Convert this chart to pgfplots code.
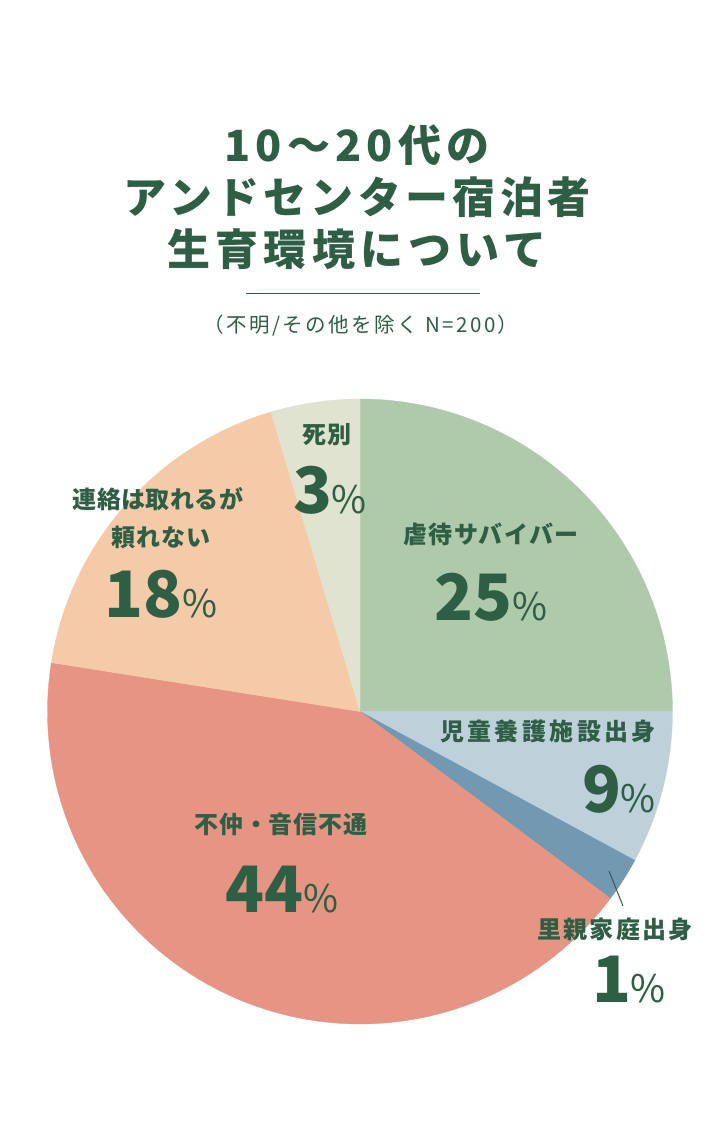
\documentclass[border=0pt]{standalone}
\usepackage{fontspec}
\usepackage{pgfplots}
\usepackage{pgfplotstable}
\pgfplotsset{compat=1.18}
\newfontfamily\jp{Noto Sans CJK JP}
\definecolor{tgreen}{HTML}{2E5E44}
\definecolor{cA}{HTML}{AFC9AB}
\definecolor{cB}{HTML}{BED1DA}
\definecolor{cC}{HTML}{7398B2}
\definecolor{cD}{HTML}{E69585}
\definecolor{cE}{HTML}{F5CAA8}
\definecolor{cF}{HTML}{DFE3D0}
% drawn shares of the pie (percent of the circle, clockwise from 12 o'clock)
\pgfplotstableread{
name value
abuse 25
facility 7.9
foster 2.3
estranged 42.3
unreliable 17.9
bereaved 4.6
}\piedata
\newcommand\pct[1]{{\bfseries\fontsize{64}{64}\selectfont #1}{\mdseries\fontsize{38}{38}\selectfont\%}}
\newcommand\lab[1]{\jp\bfseries\fontsize{24}{24}\selectfont\addfontfeatures{LetterSpace=#1}}
\begin{document}%
\begin{tikzpicture}
\pgfplotstablegetelem{0}{value}\of\piedata \pgfmathsetmacro\vA{\pgfplotsretval}
\pgfplotstablegetelem{1}{value}\of\piedata \pgfmathsetmacro\vB{\pgfplotsretval}
\pgfplotstablegetelem{2}{value}\of\piedata \pgfmathsetmacro\vC{\pgfplotsretval}
\pgfplotstablegetelem{3}{value}\of\piedata \pgfmathsetmacro\vD{\pgfplotsretval}
\pgfplotstablegetelem{4}{value}\of\piedata \pgfmathsetmacro\vE{\pgfplotsretval}
\pgfplotstablegetelem{5}{value}\of\piedata \pgfmathsetmacro\vF{\pgfplotsretval}
\pgfmathsetmacro\aA{90}
\pgfmathsetmacro\aB{\aA-3.6*\vA}
\pgfmathsetmacro\aC{\aB-3.6*\vB}
\pgfmathsetmacro\aD{\aC-3.6*\vC}
\pgfmathsetmacro\aE{\aD-3.6*\vD}
\pgfmathsetmacro\aF{\aE-3.6*\vE}
\pgfmathsetmacro\aG{\aF-3.6*\vF}
\begin{axis}[scale only axis, width=719pt, height=1145pt,
  xmin=0, xmax=719, ymin=0, ymax=1145, y dir=reverse,
  hide axis, clip=false]
\fill[white] (axis cs:0,0) rectangle (axis cs:719,1145);
\addplot[fill=cA, draw=cA, line width=0.3pt, domain=\aB:\aA, samples=90, variable=\t] ({360+312.5*cos(\t)},{711.5-312.5*sin(\t)}) -- (axis cs:360,711.5) -- cycle;
\addplot[fill=cB, draw=cB, line width=0.3pt, domain=\aC:\aB, samples=40, variable=\t] ({360+312.5*cos(\t)},{711.5-312.5*sin(\t)}) -- (axis cs:360,711.5) -- cycle;
\addplot[fill=cC, draw=cC, line width=0.3pt, domain=\aD:\aC, samples=20, variable=\t] ({360+312.5*cos(\t)},{711.5-312.5*sin(\t)}) -- (axis cs:360,711.5) -- cycle;
\addplot[fill=cD, draw=cD, line width=0.3pt, domain=\aE:\aD, samples=150, variable=\t] ({360+312.5*cos(\t)},{711.5-312.5*sin(\t)}) -- (axis cs:360,711.5) -- cycle;
\addplot[fill=cE, draw=cE, line width=0.3pt, domain=\aF:\aE, samples=70, variable=\t] ({360+312.5*cos(\t)},{711.5-312.5*sin(\t)}) -- (axis cs:360,711.5) -- cycle;
\addplot[fill=cF, draw=cF, line width=0.3pt, domain=\aG:\aF, samples=30, variable=\t] ({360+312.5*cos(\t)},{711.5-312.5*sin(\t)}) -- (axis cs:360,711.5) -- cycle;
% title
\node[anchor=base, text=tgreen, font={\jp\bfseries\fontsize{43}{43}\selectfont\addfontfeatures{LetterSpace=12}}] at (axis cs:357,161) {10～20代の};
\node[anchor=base, text=tgreen, font={\jp\bfseries\fontsize{43}{43}\selectfont\addfontfeatures{LetterSpace=10}}] at (axis cs:357,213) {アンドセンター宿泊者};
\node[anchor=base, text=tgreen, font={\jp\bfseries\fontsize{43}{43}\selectfont\addfontfeatures{LetterSpace=12}}] at (axis cs:357,265) {生育環境について};
\draw[tgreen, line width=0.8pt] (axis cs:246,293) -- (axis cs:480,293);
\node[anchor=base, text=tgreen, font={\jp\fontsize{20.5}{20.5}\selectfont\addfontfeatures{LetterSpace=12}}] at (axis cs:361,332) {（不明/その他を除く N=200）};
% labels
\node[anchor=base, text=tgreen, font={\lab{4}}] at (axis cs:327,443.5) {死別};
\node[anchor=base, text=tgreen, font={\jp}] at (axis cs:330,513) {\pct{3}};
\node[anchor=base, text=tgreen, font={\lab{6}}] at (axis cs:491,543) {虐待サバイバー};
\node[anchor=base, text=tgreen, font={\jp}] at (axis cs:491,620) {\pct{25}};
\node[anchor=base, text=tgreen, font={\lab{14}}] at (axis cs:548,740) {児童養護施設出身};
\node[anchor=base, text=tgreen, font={\jp}] at (axis cs:619,812) {\pct{9}};
\node[anchor=base, text=tgreen, font={\lab{10}}] at (axis cs:615,938) {里親家庭出身};
\node[anchor=base, text=tgreen, font={\jp}] at (axis cs:629,1002) {\pct{1}};
\node[anchor=base, text=tgreen, font={\lab{3}}] at (axis cs:281,833) {不仲・音信不通};
\node[anchor=base, text=tgreen, font={\jp}] at (axis cs:282,912) {\pct{44}};
\node[anchor=base, text=tgreen, font={\lab{2}}] at (axis cs:158,508) {連絡は取れるが};
\node[anchor=base, text=tgreen, font={\lab{4}}] at (axis cs:161,546) {頼れない};
\node[anchor=base, text=tgreen, font={\jp}] at (axis cs:161,617) {\pct{18}};
\draw[tgreen, line width=1pt] (axis cs:609,871) -- (axis cs:623,906);
\end{axis}
\end{tikzpicture}%
\end{document}
